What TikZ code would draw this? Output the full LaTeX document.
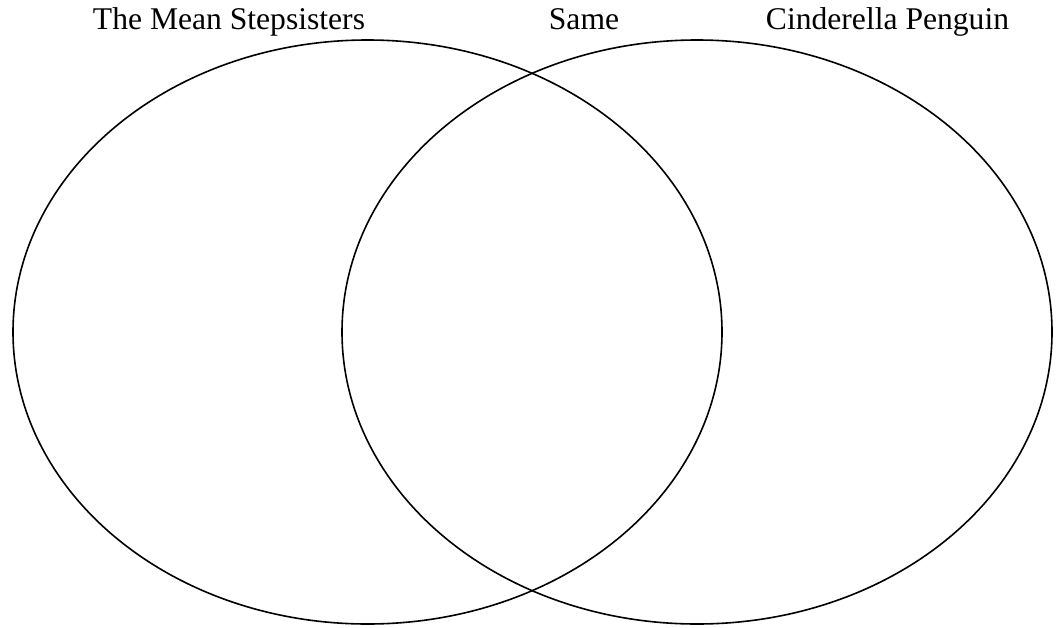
\documentclass[tikz,border=0pt]{standalone}
\usepackage{fontspec}
\setmainfont{Liberation Serif}
\begin{document}
\begin{tikzpicture}[x=1pt,y=-1pt,
  vring/.style={draw=black,line width=1.6pt},
  lbl/.style={anchor=base,inner sep=0pt,font=\fontsize{31.6}{38}\selectfont}]
\useasboundingbox (0,0) rectangle (1060,627);
\draw[vring] (367.5,332) ellipse [x radius=354.5, y radius=292];
\draw[vring] (697,332) ellipse [x radius=355, y radius=292];
\node[lbl] (t1) at (229,29) {The Mean Stepsisters};
\node[lbl] (t2) at (584,29) {Same};
\node[lbl] (t3) at (887.5,29) {Cinderella Penguin};
\end{tikzpicture}
\end{document}
